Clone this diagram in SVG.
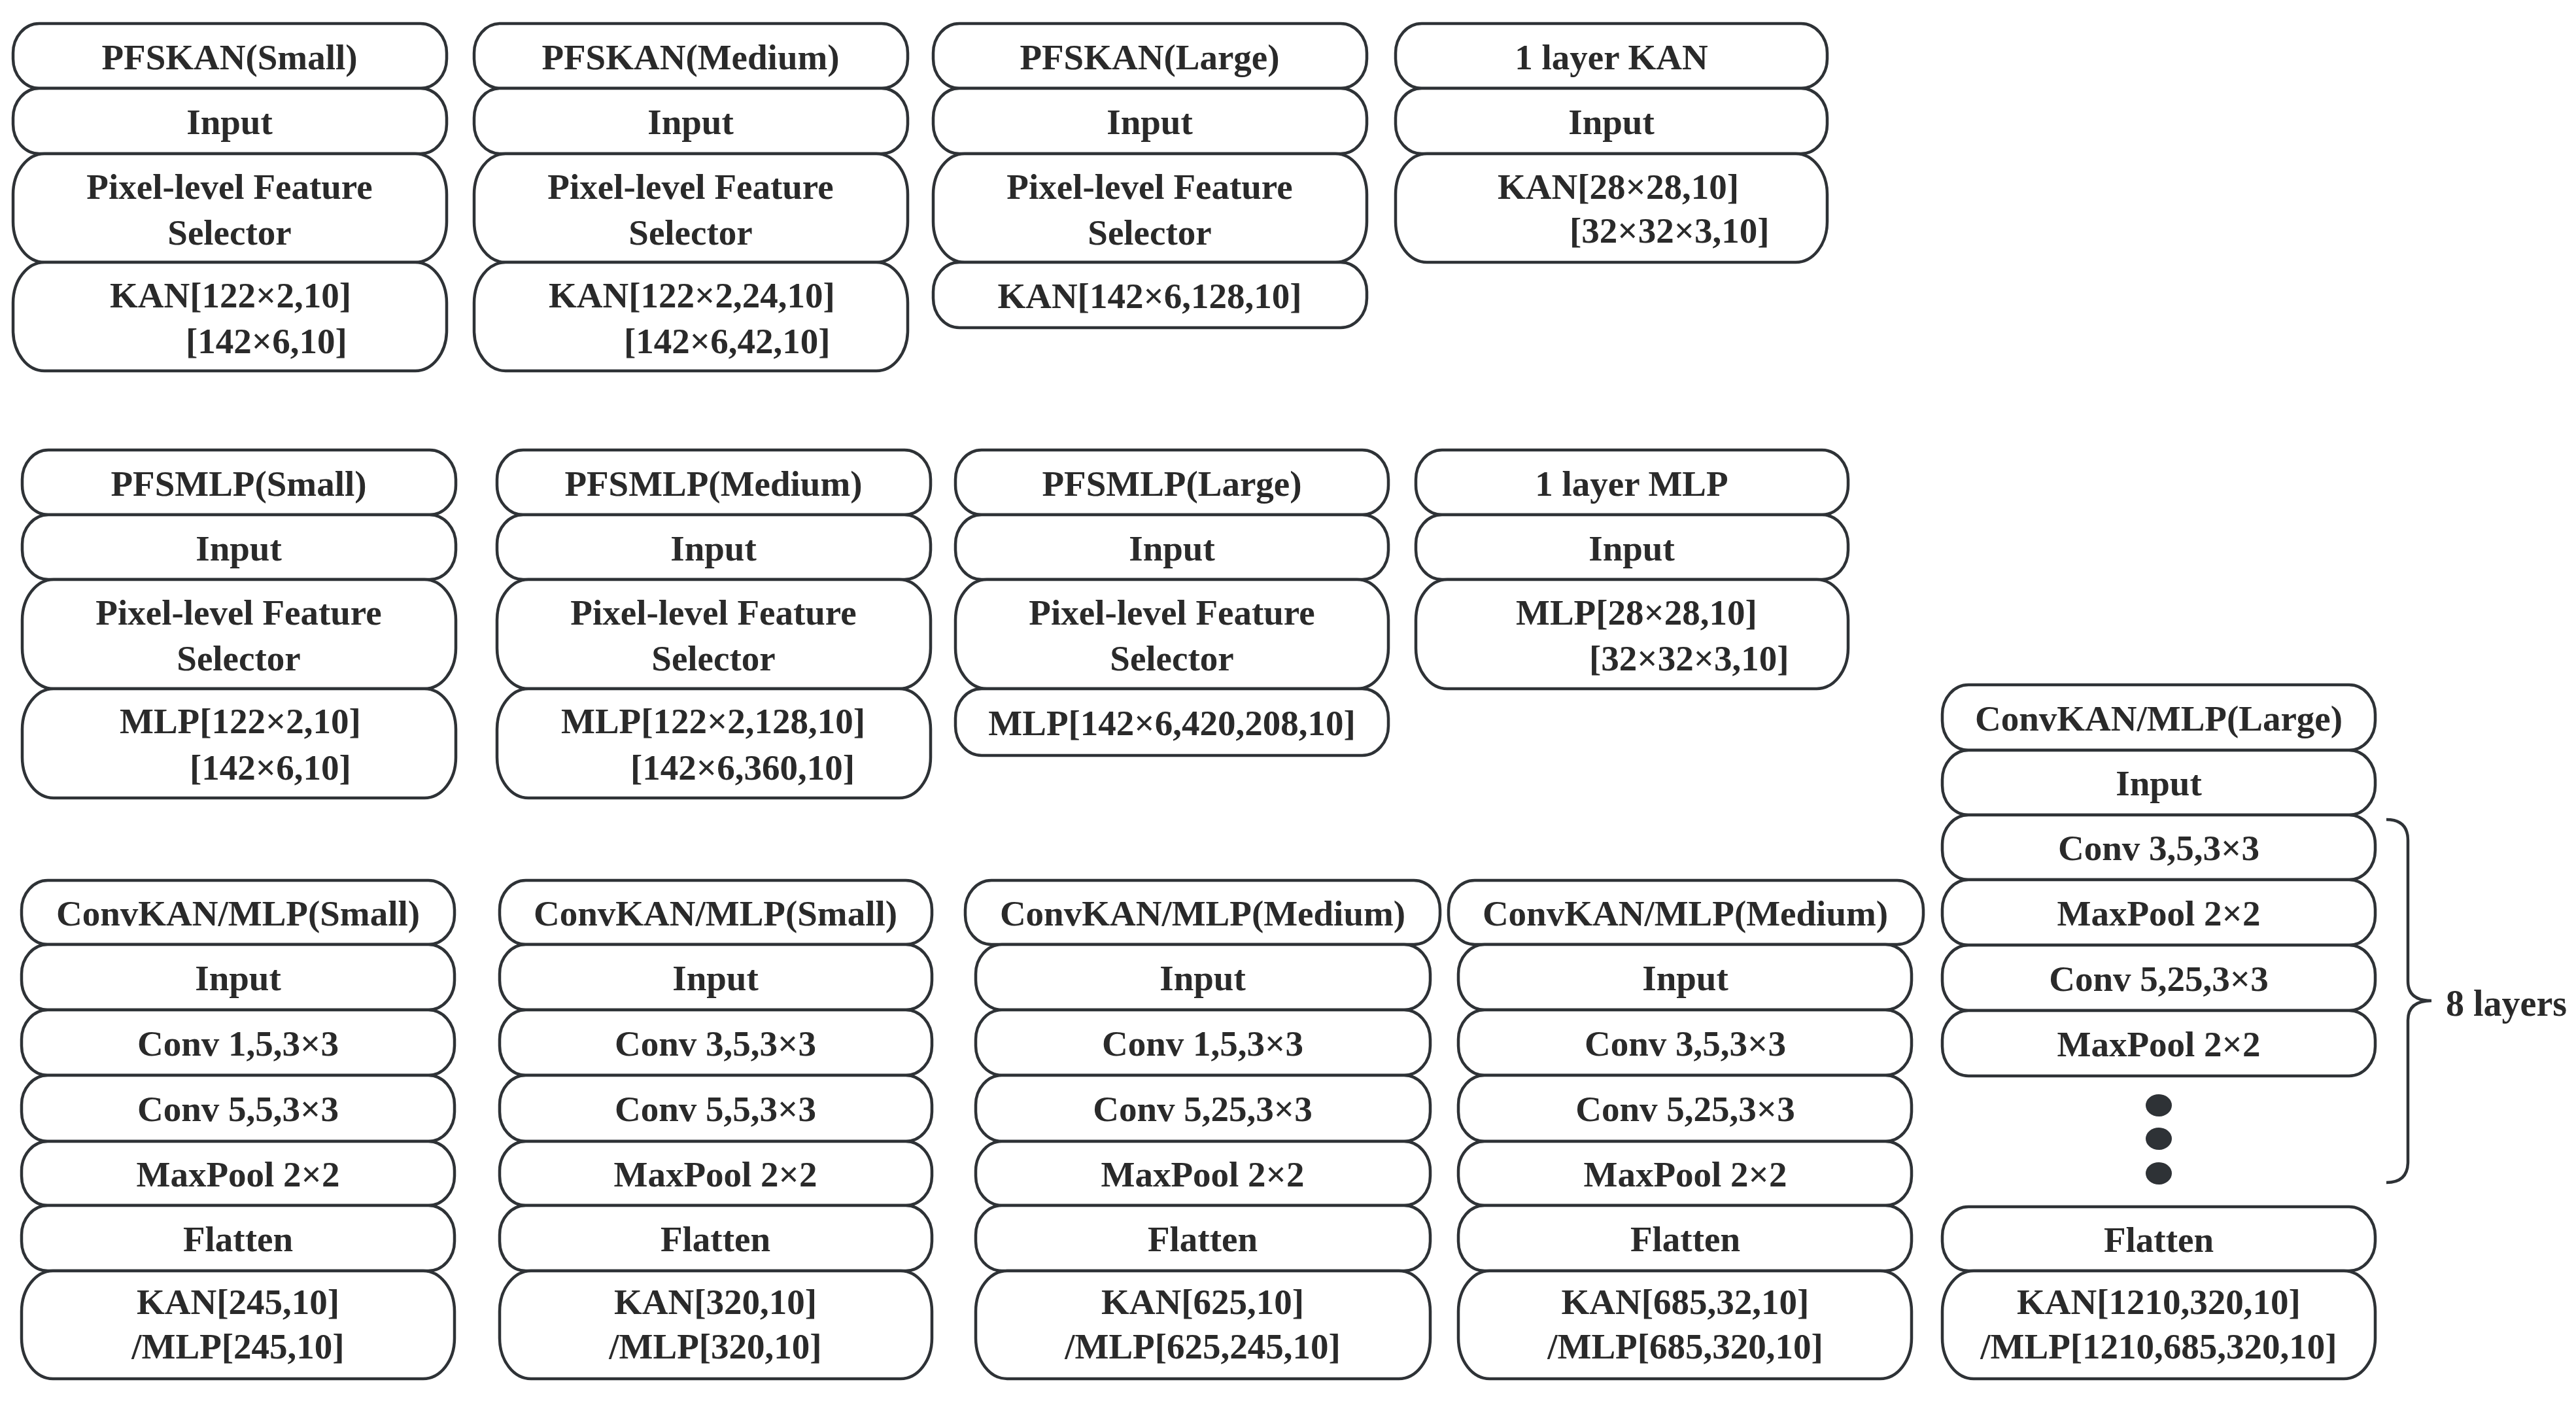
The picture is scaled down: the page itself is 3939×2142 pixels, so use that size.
<svg xmlns="http://www.w3.org/2000/svg" width="3939" height="2142" viewBox="0 0 3939 2142" font-family="Liberation Serif, Times New Roman, serif" font-weight="bold" font-size="55">
<style>
.b{fill:#fff;stroke:#2e3236;stroke-width:4.5}
.t{fill:#2a2a2a;text-anchor:middle}
.s{text-anchor:start}
.dot{fill:#2e3236}
.br{fill:none;stroke:#2e3236;stroke-width:4.5}
</style>
<rect width="3939" height="2142" fill="#fff"/>

<!-- Row 1: PFSKAN -->
<g id="pfskan-small">
<rect class="b" x="20" y="36" width="663" height="99" rx="40" ry="45"/>
<rect class="b" x="20" y="135" width="663" height="100" rx="40" ry="45"/>
<rect class="b" x="20" y="235" width="663" height="166" rx="48" ry="62"/>
<rect class="b" x="20" y="401" width="663" height="166" rx="48" ry="62"/>
<text class="t" x="351" y="106">PFSKAN(Small)</text>
<text class="t" x="351" y="205">Input</text>
<text class="t" x="351" y="304">Pixel-level Feature</text>
<text class="t" x="351" y="374">Selector</text>
<text class="t s" x="168" y="470">KAN[122×2,10]</text>
<text class="t s" x="284" y="540">[142×6,10]</text>
</g>
<g id="pfskan-medium">
<rect class="b" x="725" y="36" width="663" height="99" rx="40" ry="45"/>
<rect class="b" x="725" y="135" width="663" height="100" rx="40" ry="45"/>
<rect class="b" x="725" y="235" width="663" height="166" rx="48" ry="62"/>
<rect class="b" x="725" y="401" width="663" height="166" rx="48" ry="62"/>
<text class="t" x="1056" y="106">PFSKAN(Medium)</text>
<text class="t" x="1056" y="205">Input</text>
<text class="t" x="1056" y="304">Pixel-level Feature</text>
<text class="t" x="1056" y="374">Selector</text>
<text class="t s" x="839" y="470">KAN[122×2,24,10]</text>
<text class="t s" x="954" y="540">[142×6,42,10]</text>
</g>
<g id="pfskan-large">
<rect class="b" x="1427" y="36" width="663" height="99" rx="40" ry="45"/>
<rect class="b" x="1427" y="135" width="663" height="100" rx="40" ry="45"/>
<rect class="b" x="1427" y="235" width="663" height="166" rx="48" ry="62"/>
<rect class="b" x="1427" y="401" width="663" height="100" rx="40" ry="45"/>
<text class="t" x="1758" y="106">PFSKAN(Large)</text>
<text class="t" x="1758" y="205">Input</text>
<text class="t" x="1758" y="304">Pixel-level Feature</text>
<text class="t" x="1758" y="374">Selector</text>
<text class="t" x="1758" y="471">KAN[142×6,128,10]</text>
</g>
<g id="kan-1layer">
<rect class="b" x="2134" y="36" width="660" height="99" rx="40" ry="45"/>
<rect class="b" x="2134" y="135" width="660" height="100" rx="40" ry="45"/>
<rect class="b" x="2134" y="235" width="660" height="166" rx="48" ry="62"/>
<text class="t" x="2464" y="106">1 layer KAN</text>
<text class="t" x="2464" y="205">Input</text>
<text class="t s" x="2290" y="304">KAN[28×28,10]</text>
<text class="t s" x="2400" y="371">[32×32×3,10]</text>
</g>

<!-- Row 2: PFSMLP -->
<g id="pfsmlp-small">
<rect class="b" x="34" y="688" width="663" height="99" rx="40" ry="45"/>
<rect class="b" x="34" y="787" width="663" height="99" rx="40" ry="45"/>
<rect class="b" x="34" y="886" width="663" height="167" rx="48" ry="62"/>
<rect class="b" x="34" y="1053" width="663" height="167" rx="48" ry="62"/>
<text class="t" x="365" y="758">PFSMLP(Small)</text>
<text class="t" x="365" y="857">Input</text>
<text class="t" x="365" y="955">Pixel-level Feature</text>
<text class="t" x="365" y="1025">Selector</text>
<text class="t s" x="183" y="1121">MLP[122×2,10]</text>
<text class="t s" x="290" y="1192">[142×6,10]</text>
</g>
<g id="pfsmlp-medium">
<rect class="b" x="760" y="688" width="663" height="99" rx="40" ry="45"/>
<rect class="b" x="760" y="787" width="663" height="99" rx="40" ry="45"/>
<rect class="b" x="760" y="886" width="663" height="167" rx="48" ry="62"/>
<rect class="b" x="760" y="1053" width="663" height="167" rx="48" ry="62"/>
<text class="t" x="1091" y="758">PFSMLP(Medium)</text>
<text class="t" x="1091" y="857">Input</text>
<text class="t" x="1091" y="955">Pixel-level Feature</text>
<text class="t" x="1091" y="1025">Selector</text>
<text class="t s" x="858" y="1121">MLP[122×2,128,10]</text>
<text class="t s" x="964" y="1192">[142×6,360,10]</text>
</g>
<g id="pfsmlp-large">
<rect class="b" x="1461" y="688" width="662" height="99" rx="40" ry="45"/>
<rect class="b" x="1461" y="787" width="662" height="99" rx="40" ry="45"/>
<rect class="b" x="1461" y="886" width="662" height="167" rx="48" ry="62"/>
<rect class="b" x="1461" y="1053" width="662" height="102" rx="40" ry="45"/>
<text class="t" x="1792" y="758">PFSMLP(Large)</text>
<text class="t" x="1792" y="857">Input</text>
<text class="t" x="1792" y="955">Pixel-level Feature</text>
<text class="t" x="1792" y="1025">Selector</text>
<text class="t" x="1792" y="1124">MLP[142×6,420,208,10]</text>
</g>
<g id="mlp-1layer">
<rect class="b" x="2165" y="688" width="661" height="99" rx="40" ry="45"/>
<rect class="b" x="2165" y="787" width="661" height="99" rx="40" ry="45"/>
<rect class="b" x="2165" y="886" width="661" height="167" rx="48" ry="62"/>
<text class="t" x="2495" y="758">1 layer MLP</text>
<text class="t" x="2495" y="857">Input</text>
<text class="t s" x="2318" y="955">MLP[28×28,10]</text>
<text class="t s" x="2430" y="1025">[32×32×3,10]</text>
</g>

<!-- Row 3: ConvKAN/MLP -->
<g id="conv-small-1">
<rect class="b" x="33" y="1346" width="662" height="98" rx="40" ry="45"/>
<rect class="b" x="33" y="1444" width="662" height="100" rx="40" ry="45"/>
<rect class="b" x="33" y="1544" width="662" height="100" rx="40" ry="45"/>
<rect class="b" x="33" y="1644" width="662" height="101" rx="40" ry="45"/>
<rect class="b" x="33" y="1745" width="662" height="98" rx="40" ry="45"/>
<rect class="b" x="33" y="1843" width="662" height="100" rx="40" ry="45"/>
<rect class="b" x="33" y="1943" width="662" height="165" rx="48" ry="62"/>
<text class="t" x="364" y="1415">ConvKAN/MLP(Small)</text>
<text class="t" x="364" y="1514">Input</text>
<text class="t" x="364" y="1614">Conv 1,5,3×3</text>
<text class="t" x="364" y="1714">Conv 5,5,3×3</text>
<text class="t" x="364" y="1814">MaxPool 2×2</text>
<text class="t" x="364" y="1913">Flatten</text>
<text class="t" x="364" y="2009">KAN[245,10]</text>
<text class="t" x="364" y="2077">/MLP[245,10]</text>
</g>
<g id="conv-small-2">
<rect class="b" x="764" y="1346" width="661" height="98" rx="40" ry="45"/>
<rect class="b" x="764" y="1444" width="661" height="100" rx="40" ry="45"/>
<rect class="b" x="764" y="1544" width="661" height="100" rx="40" ry="45"/>
<rect class="b" x="764" y="1644" width="661" height="101" rx="40" ry="45"/>
<rect class="b" x="764" y="1745" width="661" height="98" rx="40" ry="45"/>
<rect class="b" x="764" y="1843" width="661" height="100" rx="40" ry="45"/>
<rect class="b" x="764" y="1943" width="661" height="165" rx="48" ry="62"/>
<text class="t" x="1094" y="1415">ConvKAN/MLP(Small)</text>
<text class="t" x="1094" y="1514">Input</text>
<text class="t" x="1094" y="1614">Conv 3,5,3×3</text>
<text class="t" x="1094" y="1714">Conv 5,5,3×3</text>
<text class="t" x="1094" y="1814">MaxPool 2×2</text>
<text class="t" x="1094" y="1913">Flatten</text>
<text class="t" x="1094" y="2009">KAN[320,10]</text>
<text class="t" x="1094" y="2077">/MLP[320,10]</text>
</g>
<g id="conv-medium-1">
<rect class="b" x="1476" y="1346" width="726" height="98" rx="40" ry="45"/>
<rect class="b" x="1492" y="1444" width="695" height="100" rx="40" ry="45"/>
<rect class="b" x="1492" y="1544" width="695" height="100" rx="40" ry="45"/>
<rect class="b" x="1492" y="1644" width="695" height="101" rx="40" ry="45"/>
<rect class="b" x="1492" y="1745" width="695" height="98" rx="40" ry="45"/>
<rect class="b" x="1492" y="1843" width="695" height="100" rx="40" ry="45"/>
<rect class="b" x="1492" y="1943" width="695" height="165" rx="48" ry="62"/>
<text class="t" x="1839" y="1415">ConvKAN/MLP(Medium)</text>
<text class="t" x="1839" y="1514">Input</text>
<text class="t" x="1839" y="1614">Conv 1,5,3×3</text>
<text class="t" x="1839" y="1714">Conv 5,25,3×3</text>
<text class="t" x="1839" y="1814">MaxPool 2×2</text>
<text class="t" x="1839" y="1913">Flatten</text>
<text class="t" x="1839" y="2009">KAN[625,10]</text>
<text class="t" x="1839" y="2077">/MLP[625,245,10]</text>
</g>
<g id="conv-medium-2">
<rect class="b" x="2215" y="1346" width="726" height="98" rx="40" ry="45"/>
<rect class="b" x="2230" y="1444" width="693" height="100" rx="40" ry="45"/>
<rect class="b" x="2230" y="1544" width="693" height="100" rx="40" ry="45"/>
<rect class="b" x="2230" y="1644" width="693" height="101" rx="40" ry="45"/>
<rect class="b" x="2230" y="1745" width="693" height="98" rx="40" ry="45"/>
<rect class="b" x="2230" y="1843" width="693" height="100" rx="40" ry="45"/>
<rect class="b" x="2230" y="1943" width="693" height="165" rx="48" ry="62"/>
<text class="t" x="2577" y="1415">ConvKAN/MLP(Medium)</text>
<text class="t" x="2577" y="1514">Input</text>
<text class="t" x="2577" y="1614">Conv 3,5,3×3</text>
<text class="t" x="2577" y="1714">Conv 5,25,3×3</text>
<text class="t" x="2577" y="1814">MaxPool 2×2</text>
<text class="t" x="2577" y="1913">Flatten</text>
<text class="t" x="2577" y="2009">KAN[685,32,10]</text>
<text class="t" x="2577" y="2077">/MLP[685,320,10]</text>
</g>
<g id="conv-large">
<rect class="b" x="2970" y="1047" width="662" height="100" rx="40" ry="45"/>
<rect class="b" x="2970" y="1147" width="662" height="99" rx="40" ry="45"/>
<rect class="b" x="2970" y="1246" width="662" height="99" rx="40" ry="45"/>
<rect class="b" x="2970" y="1345" width="662" height="100" rx="40" ry="45"/>
<rect class="b" x="2970" y="1445" width="662" height="100" rx="40" ry="45"/>
<rect class="b" x="2970" y="1545" width="662" height="100" rx="40" ry="45"/>
<ellipse class="dot" cx="3301" cy="1690" rx="20" ry="17"/>
<ellipse class="dot" cx="3301" cy="1741" rx="20" ry="17"/>
<ellipse class="dot" cx="3301" cy="1794" rx="20" ry="17"/>
<rect class="b" x="2970" y="1845" width="662" height="98" rx="40" ry="45"/>
<rect class="b" x="2970" y="1943" width="662" height="165" rx="48" ry="62"/>
<text class="t" x="3301" y="1117">ConvKAN/MLP(Large)</text>
<text class="t" x="3301" y="1216">Input</text>
<text class="t" x="3301" y="1315">Conv 3,5,3×3</text>
<text class="t" x="3301" y="1415">MaxPool 2×2</text>
<text class="t" x="3301" y="1515">Conv 5,25,3×3</text>
<text class="t" x="3301" y="1615">MaxPool 2×2</text>
<text class="t" x="3301" y="1914">Flatten</text>
<text class="t" x="3301" y="2009">KAN[1210,320,10]</text>
<text class="t" x="3301" y="2077">/MLP[1210,685,320,10]</text>
</g>

<g id="connectors">
<path class="br" d="M3649 1253 Q3682 1253 3682 1285 L3682 1500 Q3682 1530 3718 1530 Q3682 1530 3682 1560 L3682 1776 Q3682 1808 3649 1808"/>
<text class="t s" x="3740" y="1553" font-size="56">8 layers</text>
</g>
</svg>
